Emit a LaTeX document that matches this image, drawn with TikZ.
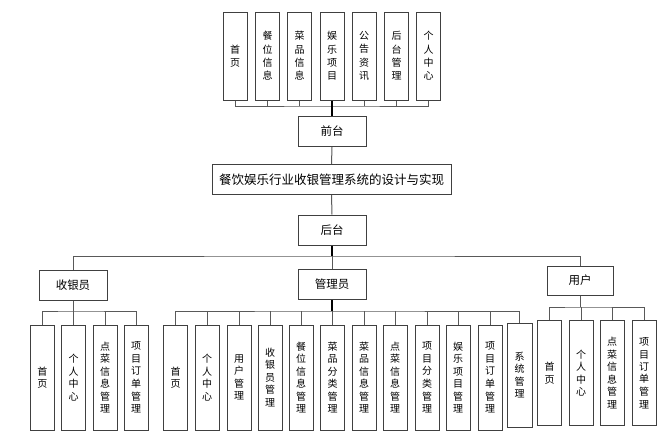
\documentclass[tikz,border=0pt]{standalone}
\usepackage{fontspec}
\setmainfont{Noto Sans CJK SC}
\begin{document}
\begin{tikzpicture}[x=1pt,y=-1pt,
  box/.style={draw=black!75, line width=1pt, fill=white, inner sep=0pt, align=center, text=black},
  vbox/.style={box, minimum width=24pt, font=\fontsize{10}{12.5}\selectfont},
  tbox/.style={vbox, minimum height=88pt, font=\fontsize{10}{13.3}\selectfont},
  bbox/.style={vbox, minimum height=105pt},
  hbox/.style={box, minimum width=68pt, minimum height=30pt, font=\fontsize{11.5}{14}\selectfont},
  conn/.style={draw=black!65, line width=1pt},
  trunk/.style={draw=black, line width=1.8pt}]
\useasboundingbox (0,0) rectangle (667,434);
% top level children
\node[tbox] (t1) at (235,56) {首\\页};
\node[tbox] (t2) at (267.5,56) {餐\\位\\信\\息};
\node[tbox] (t3) at (299.5,56) {菜\\品\\信\\息};
\node[tbox] (t4) at (332,56) {娱\\乐\\项\\目};
\node[tbox] (t5) at (364,56) {公\\告\\资\\讯};
\node[tbox] (t6) at (396.5,56) {后\\台\\管\\理};
\node[tbox] (t7) at (428.5,56) {个\\人\\中\\心};
\node[hbox] (qt) at (332,131.5) {前台};
\node[box, minimum width=239pt, minimum height=30pt, font=\fontsize{12.5}{15}\selectfont] (title) at (331.5,179.5) {餐饮娱乐行业收银管理系统的设计与实现};
\node[hbox] (ht) at (332,230) {后台};
\coordinate (bt) at (332,106);
\draw[conn] (t1.south) |- (bt) -| (t7.south);
\foreach \i in {2,3,5,6} \draw[conn] (t\i.south) -- (t\i.south |- bt);
\draw[trunk] (t4.south) -- (qt.north);
\draw[conn] (qt.south) -- (title.north);
\draw[conn] (title.south) -- (ht.north);
% second level
\node[hbox] (sy) at (73,285) {收银员};
\node[hbox] (gl) at (332,284.5) {管理员};
\node[hbox, minimum width=66pt, minimum height=29pt] (yh) at (580,280.5) {用户};
\coordinate (b2) at (332,256);
\draw[trunk] (ht.south) -- (b2);
\draw[conn] (sy.north) |- (b2) -| (yh.north);
\draw[conn] (b2) -- (gl.north);
% cashier children
\node[bbox] (s1) at (42.5,377.5) {首\\页};
\node[bbox] (s2) at (73.5,377.5) {个\\人\\中\\心};
\node[bbox] (s3) at (105,377.5) {点\\菜\\信\\息\\管\\理};
\node[bbox] (s4) at (136,377.5) {项\\目\\订\\单\\管\\理};
\coordinate (b3) at (73,311);
\draw[conn] (s1.north) |- (b3) -| (s4.north);
\draw[conn] (sy.south) -- (b3);
\foreach \i in {2,3} \draw[conn] (s\i.north) -- (s\i.north |- b3);
% manager children
\node[bbox] (g1) at (175.5,377.5) {首\\页};
\node[bbox] (g2) at (207,377.5) {个\\人\\中\\心};
\node[bbox] (g3) at (239,377.5) {用\\户\\管\\理};
\node[bbox] (g4) at (270,377.5) {收\\银\\员\\管\\理};
\node[bbox] (g5) at (301,377.5) {餐\\位\\信\\息\\管\\理};
\node[bbox] (g6) at (332.5,377.5) {菜\\品\\分\\类\\管\\理};
\node[bbox] (g7) at (364,377.5) {菜\\品\\信\\息\\管\\理};
\node[bbox] (g8) at (395,377.5) {点\\菜\\信\\息\\管\\理};
\node[bbox] (g9) at (427,377.5) {项\\目\\分\\类\\管\\理};
\node[bbox] (g10) at (458,377.5) {娱\\乐\\项\\目\\管\\理};
\node[bbox] (g11) at (490,377.5) {项\\目\\订\\单\\管\\理};
\node[vbox, minimum width=25pt, minimum height=104pt] (g12) at (519.5,375) {系\\统\\管\\理};
\coordinate (b4) at (332,311);
\draw[conn] (g1.north) |- (b4) -| (g12.north);
\draw[trunk] (gl.south) -- (b4);
\foreach \i in {2,...,11} \draw[conn] (g\i.north) -- (g\i.north |- b4);
% user children
\node[bbox] (u1) at (549.5,373) {首\\页};
\node[bbox] (u2) at (581,373) {个\\人\\中\\心};
\node[bbox] (u3) at (612,373) {点\\菜\\信\\息\\管\\理};
\node[bbox] (u4) at (644,373) {项\\目\\订\\单\\管\\理};
\coordinate (b5) at (580,307);
\draw[conn] (u1.north) |- (b5) -| (u4.north);
\draw[conn] (yh.south) -- (b5);
\foreach \i in {2,3} \draw[conn] (u\i.north) -- (u\i.north |- b5);
\end{tikzpicture}
\end{document}
